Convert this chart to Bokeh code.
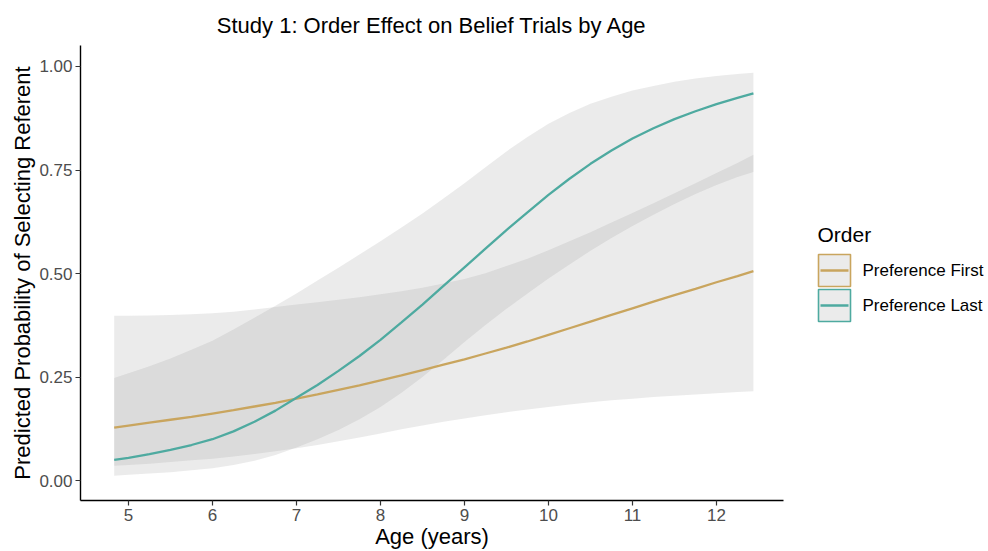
from bokeh.plotting import figure
from bokeh.layouts import row
from bokeh.models import Range1d, FixedTicker, ColumnDataSource
from bokeh.core.properties import value
from bokeh.embed import file_html
from bokeh.resources import INLINE

# ---- data ----
age = [4.83, 5.0, 5.25, 5.5, 5.75, 6.0, 6.25, 6.5, 6.75, 7.0, 7.25, 7.5, 7.75, 8.0, 8.25, 8.5,
       8.75, 9.0, 9.25, 9.5, 9.75, 10.0, 10.25, 10.5, 10.75, 11.0, 11.25, 11.5, 11.75, 12.0,
       12.25, 12.44]

first_fit = [0.128, 0.133, 0.140, 0.147, 0.154, 0.162, 0.170, 0.179, 0.188, 0.198, 0.208,
             0.219, 0.230, 0.242, 0.254, 0.267, 0.280, 0.293, 0.307, 0.321, 0.336, 0.352,
             0.368, 0.384, 0.400, 0.416, 0.432, 0.448, 0.463, 0.479, 0.494, 0.506]
first_lo = [0.036, 0.038, 0.041, 0.045, 0.049, 0.053, 0.058, 0.064, 0.071, 0.078, 0.086,
            0.095, 0.104, 0.114, 0.124, 0.133, 0.142, 0.150, 0.158, 0.165, 0.172, 0.178,
            0.184, 0.189, 0.194, 0.198, 0.202, 0.205, 0.208, 0.211, 0.214, 0.216]
first_hi = [0.398, 0.398, 0.399, 0.400, 0.402, 0.404, 0.408, 0.413, 0.419, 0.425, 0.431,
            0.437, 0.443, 0.450, 0.457, 0.466, 0.476, 0.487, 0.501, 0.518, 0.536, 0.556,
            0.578, 0.600, 0.623, 0.646, 0.670, 0.694, 0.718, 0.743, 0.767, 0.787]

last_fit = [0.050, 0.055, 0.064, 0.074, 0.086, 0.100, 0.119, 0.142, 0.169, 0.200, 0.231,
            0.265, 0.301, 0.340, 0.382, 0.425, 0.470, 0.515, 0.560, 0.605, 0.648, 0.690,
            0.729, 0.765, 0.797, 0.826, 0.851, 0.873, 0.892, 0.909, 0.924, 0.935]
last_lo = [0.012, 0.014, 0.017, 0.020, 0.025, 0.030, 0.038, 0.048, 0.062, 0.080, 0.100,
           0.122, 0.148, 0.178, 0.212, 0.250, 0.292, 0.335, 0.376, 0.415, 0.452, 0.488,
           0.522, 0.555, 0.586, 0.615, 0.642, 0.668, 0.692, 0.714, 0.733, 0.745]
last_hi = [0.248, 0.259, 0.276, 0.295, 0.316, 0.338, 0.365, 0.393, 0.422, 0.452, 0.483,
           0.514, 0.546, 0.578, 0.611, 0.645, 0.681, 0.718, 0.757, 0.795, 0.830, 0.862,
           0.888, 0.910, 0.927, 0.942, 0.953, 0.963, 0.971, 0.977, 0.982, 0.985]

orders = ["Preference First", "Preference Last"]
order_colors = ["#C9A55E", "#4EAAA0"]

x_ticks = [5, 6, 7, 8, 9, 10, 11, 12]
y_ticks = [0.0, 0.25, 0.5, 0.75, 1.0]
y_tick_labels = ["0.00", "0.25", "0.50", "0.75", "1.00"]

FONT = "Liberation Sans"
H = 551
B_TOP, B_BOTTOM = 45, 51

src = ColumnDataSource(dict(age=age, first_fit=first_fit, first_lo=first_lo, first_hi=first_hi,
                            last_fit=last_fit, last_lo=last_lo, last_hi=last_hi))

p = figure(width=800, height=H, x_range=Range1d(4.429, 12.798), y_range=Range1d(-0.048, 1.0507),
           output_backend="svg", toolbar_location=None,
           min_border_left=80, min_border_right=17, min_border_top=B_TOP, min_border_bottom=B_BOTTOM)
p.title.text = "Study 1: Order Effect on Belief Trials by Age"
p.title.align = "center"
p.title.text_font = FONT
p.title.text_font_size = "22px"
p.title.text_font_style = "normal"
p.title.text_color = "#000000"
p.title.standoff = 16
p.outline_line_color = None
p.xgrid.visible = False
p.ygrid.visible = False

# ribbons
p.varea(x="age", y1="first_lo", y2="first_hi", source=src, fill_color="#999999", fill_alpha=0.2)
p.varea(x="age", y1="last_lo", y2="last_hi", source=src, fill_color="#999999", fill_alpha=0.2)
# lines
p.line(x="age", y="first_fit", source=src, line_color=order_colors[0], line_width=2.3)
p.line(x="age", y="last_fit", source=src, line_color=order_colors[1], line_width=2.3)

for ax in (p.xaxis[0], p.yaxis[0]):
    ax.axis_line_color = "#000000"
    ax.axis_line_width = 1.4
    ax.major_tick_line_color = "#333333"
    ax.major_tick_line_width = 1.2
    ax.major_tick_out = 5
    ax.major_tick_in = 0
    ax.minor_tick_out = 0
    ax.minor_tick_in = 0
    ax.major_label_text_font = FONT
    ax.major_label_text_font_size = "17px"
    ax.major_label_text_color = "#4D4D4D"
    ax.major_label_standoff = 3
    ax.axis_label_text_font = FONT
    ax.axis_label_text_font_size = "22px"
    ax.axis_label_text_font_style = "normal"
    ax.axis_label_text_color = "#000000"

p.xaxis.ticker = FixedTicker(ticks=x_ticks)
p.yaxis.ticker = FixedTicker(ticks=y_ticks)
p.yaxis.major_label_overrides = {t: l for t, l in zip(y_ticks, y_tick_labels)}
p.xaxis.axis_label = "Age (years)"
p.yaxis.axis_label = "Predicted Probability of Selecting Referent"
p.xaxis.axis_label_standoff = 0
p.yaxis.axis_label_standoff = 1

# ---- legend panel (its frame spans the same pixel rows as the main frame) ----
LW = 188
leg = figure(width=LW, height=H, x_range=Range1d(0, LW), y_range=Range1d(H - B_BOTTOM, B_TOP),
             output_backend="svg", toolbar_location=None,
             min_border_left=0, min_border_right=0, min_border_top=B_TOP, min_border_bottom=B_BOTTOM,
             x_axis_type=None, y_axis_type=None, title=None)
leg.outline_line_color = None
leg.xgrid.visible = False
leg.ygrid.visible = False

key_y = [270, 305]
lsrc = ColumnDataSource(dict(x=[34, 34], y=key_y, col=order_colors, lab=orders,
                             x0=[20, 20], x1=[48, 48], tx=[62, 62]))
leg.rect(x="x", y="y", width=32, height=32, source=lsrc, fill_color="#EBEBEB",
         line_color="col", line_width=1.6)
leg.segment(x0="x0", y0="y", x1="x1", y1="y", source=lsrc, line_color="col", line_width=2.3)
leg.text(x="tx", y="y", text="lab", source=lsrc, text_font=value(FONT), text_font_size=value("17px"),
         text_baseline="middle", text_align="left", text_color="#000000")
leg.text(x=[17], y=[234], text=["Order"], text_font=value(FONT), text_font_size=value("21px"),
         text_baseline="middle", text_align="left", text_color="#000000")

layout = row(p, leg)
open("out.html", "w").write(file_html(layout, INLINE))
